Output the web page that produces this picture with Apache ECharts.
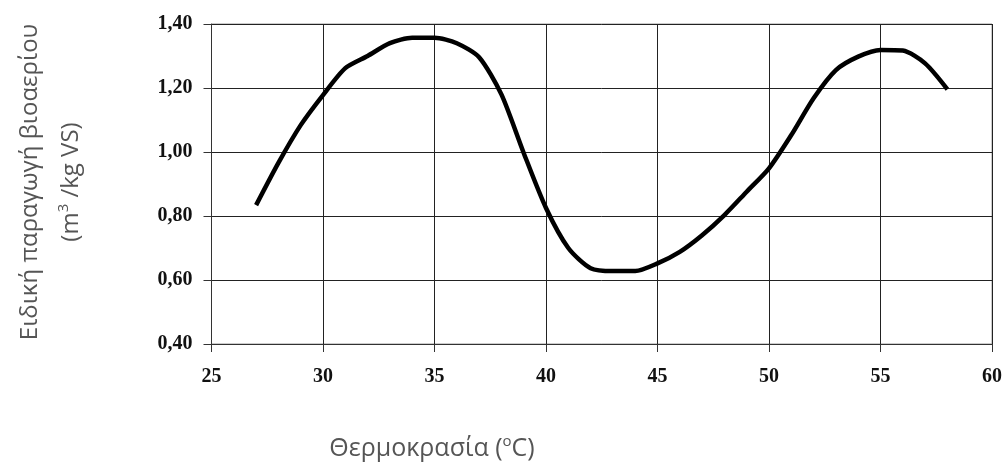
<!DOCTYPE html>
<html>
<head>
<meta charset="utf-8">
<script src="https://cdn.jsdelivr.net/npm/echarts@6/dist/echarts.min.js"></script>
<style>
  html, body { margin: 0; padding: 0; background: #fff; }
  #chart { width: 1006px; height: 464px; }
</style>
</head>
<body>
<div id="chart"></div>
<script>
// θερμοκρασία (°C) και ειδική παραγωγή βιοαερίου
const temps = [27, 28, 29, 30, 31, 32, 33, 34, 35, 36, 37, 38, 39, 40, 41, 42,
  43, 44, 45, 46, 47, 48, 49, 50, 51, 52, 53, 54, 55, 56, 57, 58];
const biogas = [0.834, 0.966, 1.084, 1.178, 1.262, 1.300, 1.340, 1.357, 1.357, 1.340, 1.296, 1.180,
  0.997, 0.825, 0.700, 0.637, 0.628, 0.628, 0.652, 0.688, 0.740, 0.803, 0.876, 0.949,
  1.053, 1.168, 1.256, 1.298, 1.319, 1.317, 1.277, 1.196];
const xTicks = [25, 30, 35, 40, 45, 50, 55, 60];
const yTicks = [0.4, 0.6, 0.8, 1.0, 1.2, 1.4];

const points = temps.map((t, i) => [t, biogas[i]]);

let chart = echarts.init(document.getElementById('chart'));
let option = {
    animation: false,
    grid: {
        left: 211.5,
        right: 14,
        top: 24,
        bottom: 120,
        show: true,
        borderColor: '#999',
        borderWidth: 1
    },
    xAxis: {
        type: 'value',
        min: xTicks[0],
        max: xTicks[xTicks.length - 1],
        interval: 5,
        axisLine: { show: true, onZero: false, lineStyle: { color: '#333', width: 1 } },
        axisTick: { show: true, length: 8, lineStyle: { color: '#333' } },
        axisLabel: {
            margin: 23,
            color: '#111',
            fontFamily: 'Liberation Serif',
            fontWeight: 'bold',
            fontSize: 20
        },
        splitLine: { show: true, lineStyle: { color: '#222', width: 1 } }
    },
    yAxis: {
        type: 'value',
        min: yTicks[0],
        max: yTicks[yTicks.length - 1],
        interval: 0.2,
        axisLine: { show: true, onZero: false, lineStyle: { color: '#333', width: 1 } },
        axisTick: { show: true, length: 8, lineStyle: { color: '#333' } },
        axisLabel: {
            margin: 19,
            color: '#111',
            fontFamily: 'Liberation Serif',
            fontWeight: 'bold',
            fontSize: 20,
            formatter: v => v.toFixed(2).replace('.', ',')
        },
        splitLine: { show: true, lineStyle: { color: '#222', width: 1 } }
    },
    graphic: [
        {
            type: 'text',
            x: 30, y: 182,
            rotation: Math.PI / 2,
            style: {
                text: 'Ειδική παραγωγή βιοαερίου',
                fill: '#555',
                font: '24px "Open Sans"',
                align: 'center',
                verticalAlign: 'middle'
            }
        },
        {
            type: 'text',
            x: 71, y: 182,
            rotation: Math.PI / 2,
            style: {
                text: '(m{s|3} /kg VS)',
                fill: '#555',
                font: '24px "Open Sans"',
                align: 'center',
                verticalAlign: 'middle',
                rich: {
                    s: { fontSize: 15, fontFamily: 'Open Sans', fill: '#555', padding: [0, 0, 14, 0] }
                }
            }
        },
        {
            type: 'text',
            x: 432, y: 449,
            style: {
                text: 'Θερμοκρασία ({s|o}C)',
                fill: '#555',
                font: '25px "Open Sans"',
                align: 'center',
                verticalAlign: 'middle',
                rich: {
                    s: { fontSize: 15, fontFamily: 'Open Sans', fill: '#555', padding: [0, 0, 14, 0] }
                }
            }
        }
    ],
    series: [
        {
            type: 'line',
            data: points,
            smooth: 0.25,
            showSymbol: false,
            lineStyle: { color: '#000', width: 4.5, cap: 'butt', join: 'round' }
        }
    ]
};
chart.setOption(option);
</script>
</body>
</html>
